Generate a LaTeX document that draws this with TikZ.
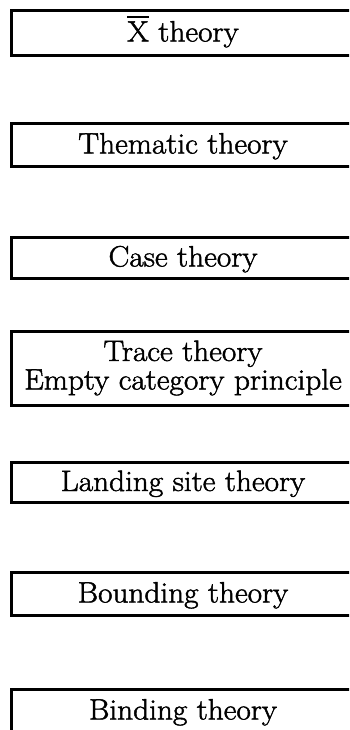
\documentclass[tikz,border=0pt]{standalone}
\usepackage{fontspec}
\setmainfont{Latin Modern Roman}[FakeBold=1.6, FakeStretch=1.06]
\newcommand\xbarletter{\vbox{\hrule height 2.4pt\kern 3pt\hbox{X}}}
\begin{document}
\begin{tikzpicture}[x=1pt,y=-1pt,
  theorybox/.style={draw, line width=3pt, rectangle, inner sep=0pt,
    minimum width=344pt, align=center,
    font=\fontsize{29.5}{28.5}\selectfont},
  oneline/.style={theorybox, text height=20pt, text depth=3pt}]
\useasboundingbox (0,0) rectangle (349,730);
\clip (0,0) rectangle (349,730);
\node[oneline, minimum height=45pt] (b1) at (183,33) {\xbarletter{} theory};
\node[oneline, minimum height=43pt] (b2) at (183,145) {Thematic theory};
\node[oneline, minimum height=41pt] (b3) at (183,258) {Case theory};
\node[theorybox, minimum height=74pt] (b4) at (183,368) {Trace theory\\Empty category principle};
\node[oneline, minimum height=40pt] (b5) at (183,482.5) {Landing site theory};
\node[oneline, minimum height=43pt] (b6) at (183,594) {Bounding theory};
\node[oneline, minimum height=43pt] (b7) at (183,711) {Binding theory};
\end{tikzpicture}
\end{document}
